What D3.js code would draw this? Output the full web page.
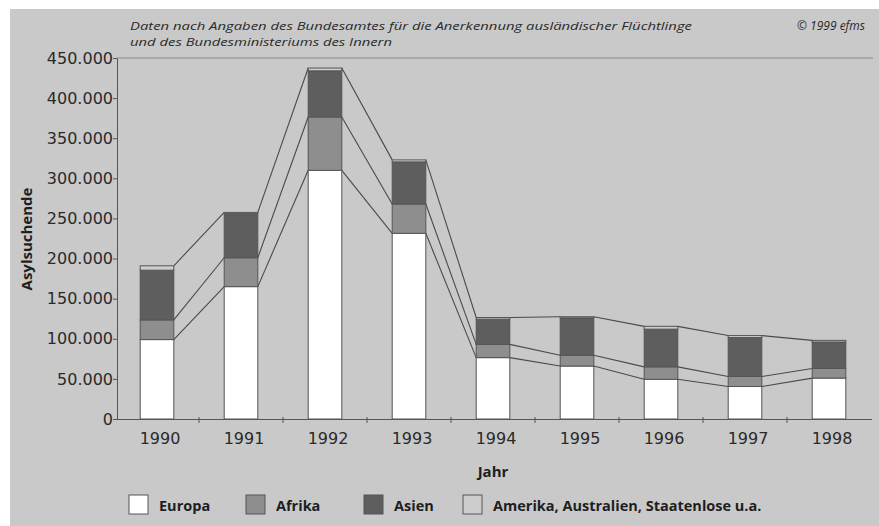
<!DOCTYPE html>
<html>
<head>
<meta charset="utf-8">
<script src="https://cdn.jsdelivr.net/npm/d3@7"></script>
<style>
  body { margin: 0; background: #fff; }
  svg { display: block; }
</style>
</head>
<body>
<div id="chart"></div>
<script>
// Data
var years = ["1990", "1991", "1992", "1993", "1994", "1995", "1996", "1997", "1998"];
var europa  = [99000, 165000, 310000, 231500, 76500, 66000, 49500, 40500, 51000];
var afrika  = [24500, 36000, 66500, 36500, 16500, 13500, 15500, 12500, 12000];
var asien   = [62000, 55000, 57500, 52500, 31500, 46500, 47000, 48500, 33000];
var amerika = [5500, 1500, 3500, 2500, 2000, 1500, 3500, 2500, 2000];
var seriesNames = ["Europa", "Afrika", "Asien", "Amerika, Australien, Staatenlose u.a."];
var yTicks = [0, 50000, 100000, 150000, 200000, 250000, 300000, 350000, 400000, 450000];
var colors = ["#ffffff", "#8e8e8e", "#5e5e5e", "#cdcdcd"];

var W = 879, H = 526;

var svg = d3.select("#chart")
    .append("svg")
    .attr("width", W)
    .attr("height", H);

// grey paper
svg.append("rect")
    .attr("x", 10).attr("y", 9)
    .attr("width", W - 10).attr("height", H - 9)
    .attr("fill", "#c9c9c9");

// build table for the stack
var table = years.map(function (y, i) {
    return {year: y, Europa: europa[i], Afrika: afrika[i], Asien: asien[i],
            "Amerika, Australien, Staatenlose u.a.": amerika[i]};
});
var stacked = d3.stack().keys(seriesNames)(table);

// scales
var x = d3.scaleBand()
    .domain(years)
    .range([115, 871])
    .paddingInner(0.6)
    .paddingOuter(0.3);

var y = d3.scaleLinear()
    .domain([0, 450000])
    .range([419, 58]);

var step = x.step(), bw = x.bandwidth();

// top rule at 450.000
svg.append("line")
    .attr("x1", 117).attr("x2", 873)
    .attr("y1", y(450000)).attr("y2", y(450000))
    .attr("stroke", "#8a8a8a").attr("stroke-width", 1);

// Y axis
var yAxis = svg.append("g")
    .attr("transform", "translate(117,0)")
    .call(d3.axisLeft(y).tickValues(yTicks).tickSize(4).tickSizeOuter(0)
        .tickFormat(function (d) { return d === 0 ? "0" : d3.format(",")(d).replace(/,/g, "."); }));
yAxis.select(".domain").attr("stroke", "#555");
yAxis.selectAll(".tick line").attr("stroke", "#555");
yAxis.selectAll("text")
    .attr("fill", "#2a2a2a")
    .style("font-family", "DejaVu Sans")
    .style("font-size", "16px")
    .attr("x", -4);

// connecting lines between bars (Europa top, Afrika top, total top)
var levels = [0, 1, 3];
levels.forEach(function (k) {
    var layer = stacked[k];
    for (var i = 0; i < years.length - 1; i++) {
        svg.append("line")
            .attr("x1", x(years[i]) + bw)
            .attr("y1", y(layer[i][1]))
            .attr("x2", x(years[i + 1]))
            .attr("y2", y(layer[i + 1][1]))
            .attr("stroke", "#4a4a4a")
            .attr("stroke-width", 1.1);
    }
});

// bars
svg.append("g")
    .selectAll("g")
    .data(stacked)
    .enter()
    .append("g")
    .attr("fill", function (d, i) { return colors[i]; })
    .selectAll("rect")
    .data(function (d) { return d; })
    .enter()
    .append("rect")
    .attr("x", function (d) { return x(d.data.year); })
    .attr("y", function (d) { return y(d[1]); })
    .attr("width", bw)
    .attr("height", function (d) { return y(d[0]) - y(d[1]); })
    .attr("stroke", "#555")
    .attr("stroke-width", 1);

// X axis
var xAxis = svg.append("g")
    .attr("transform", "translate(0," + y(0) + ")")
    .call(d3.axisBottom(x).tickSize(0).tickPadding(14));
xAxis.select(".domain").attr("stroke", "#555").attr("d", "M117,0.5H872");
xAxis.selectAll("text")
    .attr("fill", "#2a2a2a")
    .attr("dx", 3)
    .style("font-family", "DejaVu Sans")
    .style("font-size", "16px");

// small ticks between the bars
xAxis.selectAll(".sep")
    .data(years.slice(1))
    .enter()
    .append("line")
    .attr("class", "sep")
    .attr("x1", function (d) { return x(d) - step * 0.3; })
    .attr("x2", function (d) { return x(d) - step * 0.3; })
    .attr("y1", -2).attr("y2", 4)
    .attr("stroke", "#555");

// axis titles
svg.append("text")
    .attr("x", 493).attr("y", 477)
    .attr("text-anchor", "middle")
    .attr("fill", "#1e1e1e")
    .style("font-family", "Open Sans")
    .style("font-weight", "bold")
    .style("font-size", "15px")
    .text("Jahr");

svg.append("text")
    .attr("transform", "translate(32,239) rotate(-90)")
    .attr("text-anchor", "middle")
    .attr("fill", "#1e1e1e")
    .style("font-family", "Open Sans")
    .style("font-weight", "bold")
    .style("font-size", "15px")
    .text("Asylsuchende");

// source note
svg.append("text")
    .attr("x", 130).attr("y", 30)
    .attr("fill", "#2a2a2a")
    .attr("textLength", 562).attr("lengthAdjust", "spacingAndGlyphs")
    .style("font-family", "Open Sans")
    .style("font-style", "italic")
    .style("font-size", "11.5px")
    .text("Daten nach Angaben des Bundesamtes für die Anerkennung ausländischer Flüchtlinge");
svg.append("text")
    .attr("x", 130).attr("y", 46)
    .attr("fill", "#2a2a2a")
    .attr("textLength", 262).attr("lengthAdjust", "spacingAndGlyphs")
    .style("font-family", "Open Sans")
    .style("font-style", "italic")
    .style("font-size", "11.5px")
    .text("und des Bundesministeriums des Innern");
svg.append("text")
    .attr("x", 865).attr("y", 30)
    .attr("text-anchor", "end")
    .attr("fill", "#2a2a2a")
    .style("font-family", "Open Sans")
    .style("font-style", "italic")
    .style("font-size", "12px")
    .text("© 1999 efms");

// legend
var legendX = [129, 246, 364, 463];
var legend = svg.append("g")
    .selectAll("g")
    .data(seriesNames)
    .enter()
    .append("g")
    .attr("transform", function (d, i) { return "translate(" + legendX[i] + ",495)"; });
legend.append("rect")
    .attr("width", 19).attr("height", 19)
    .attr("fill", function (d, i) { return colors[i]; })
    .attr("stroke", "#555");
legend.append("text")
    .attr("x", 30).attr("y", 16)
    .attr("fill", "#1e1e1e")
    .style("font-family", "Open Sans")
    .style("font-weight", "bold")
    .style("font-size", "14.5px")
    .text(function (d) { return d; });
</script>
</body>
</html>
